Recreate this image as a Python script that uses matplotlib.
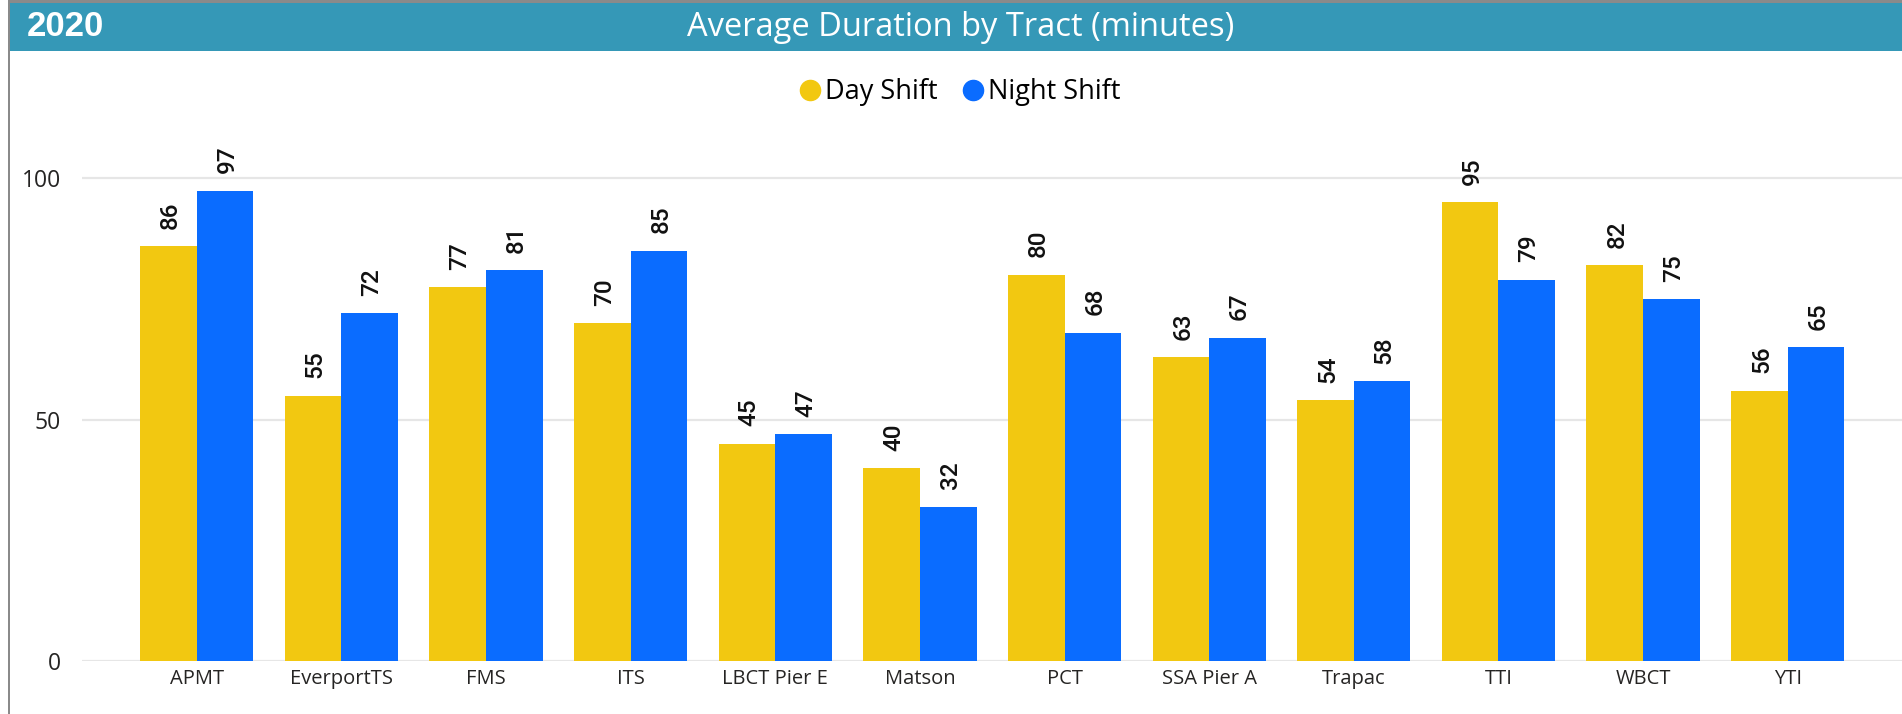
# -*- coding: utf-8 -*-
"""
Average duration by tract, day vs night shift (2020) - grouped bar chart
"""
import numpy as np
import matplotlib
matplotlib.use("Agg")
import matplotlib.pyplot as plt
from matplotlib.patches import Rectangle
from matplotlib.lines import Line2D

# data
tracts = ['APMT', 'EverportTS', 'FMS', 'ITS', 'LBCT Pier E', 'Matson',
          'PCT', 'SSA Pier A', 'Trapac', 'TTI', 'WBCT', 'YTI']
day_shift = [86, 55, 77.4, 70, 45, 40, 80, 63, 54, 95, 82, 56]
night_shift = [97.4, 72, 81, 85, 47, 32, 68, 67, 58, 79, 75, 65]
series_names = ['Day Shift', 'Night Shift']
yticks = [0, 50, 100]

YELLOW = '#F2C811'
BLUE = '#0A6CFF'
HEADER = '#3598B7'

W, H = 1902, 714
fig = plt.figure(figsize=(W / 100, H / 100), dpi=100)

# outer frame + header bar
fig.add_artist(Rectangle((8 / W, 0), 2 / W, 1, transform=fig.transFigure,
                         color='#8A8A8A', lw=0))
fig.add_artist(Rectangle((8 / W, 1 - 3 / H), 1, 3 / H, transform=fig.transFigure,
                         color='#8A8A8A', lw=0))
fig.add_artist(Rectangle((10 / W, 1 - 51 / H), 1, 48 / H, transform=fig.transFigure,
                         color=HEADER, lw=0))
fig.text(27 / W, 1 - 27 / H, '2020', color='white', fontsize=25, fontweight='bold',
         family='Liberation Sans', ha='left', va='center')
fig.text(961 / W, 1 - 28 / H, 'Average Duration by Tract (minutes)', color='white',
         fontsize=23.5, family='Open Sans', ha='center', va='center')

# plot area
y0_px, top_px, left_px = 661, 120, 81.7
ax = fig.add_axes([left_px / W, 1 - y0_px / H, (W - left_px) / W, (y0_px - top_px) / H])
px_per_unit = (661 - 178.3) / 100
ax.set_ylim(0, (y0_px - top_px) / px_per_unit)
ax.set_xlim(-0.795, 11.79)

x = np.arange(len(tracts))
bw = 0.3914
b1 = ax.bar(x - bw / 2, day_shift, bw, color=YELLOW, label=series_names[0], zorder=2)
b2 = ax.bar(x + bw / 2, night_shift, bw, color=BLUE, label=series_names[1], zorder=2)

# rotated value labels above each bar
for bars, vals in [(b1, day_shift), (b2, night_shift)]:
    for rect, v in zip(bars, vals):
        ax.annotate('%d' % round(v), (rect.get_x() + rect.get_width() / 2, v),
                    xytext=(1.5, 12.5), textcoords='offset points', rotation=90,
                    ha='center', va='bottom', fontsize=17.5, family='Roboto',
                    fontweight='medium', color='#111111')

ax.set_yticks(yticks)
ax.yaxis.grid(True, color='#E6E6E6', lw=1.6)
ax.set_axisbelow(True)
ax.set_xticks(x)
ax.set_xticklabels(tracts, family='Open Sans', fontsize=14.5, color='#252423')
for lab in ax.get_yticklabels():
    lab.set_family('Open Sans')
    lab.set_fontsize(16.5)
    lab.set_color('#252423')
ax.tick_params(axis='both', length=0)
ax.tick_params(axis='y', pad=15)
ax.tick_params(axis='x', pad=6)
for s in ax.spines.values():
    s.set_visible(False)

handles = [Line2D([], [], marker='o', ls='', markersize=14.5, color=c) for c in (YELLOW, BLUE)]
fig.legend(handles, series_names, loc='center', bbox_to_anchor=(960 / W, 1 - 92 / H),
           ncol=2, frameon=False, handlelength=0.8, handletextpad=0.15,
           columnspacing=0.9, prop={'family': 'Open Sans', 'size': 19.5})

plt.savefig('out.png', dpi=100)
plt.close()
